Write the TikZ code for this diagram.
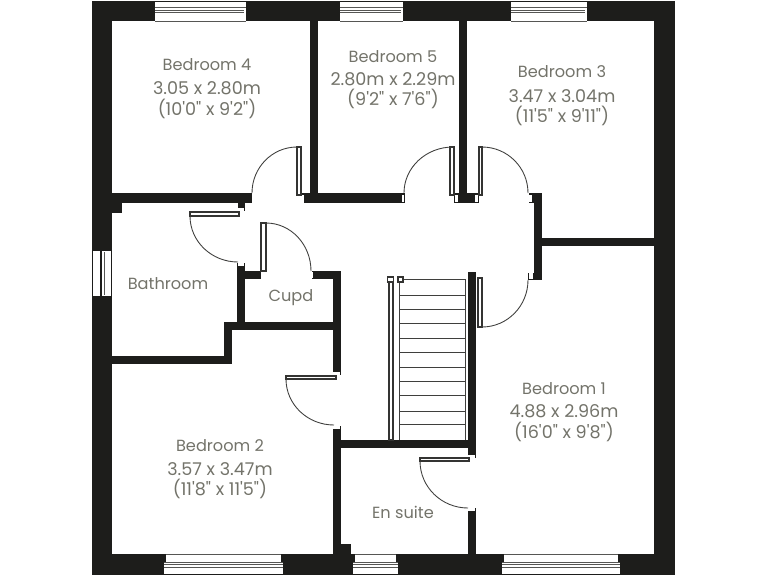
\documentclass[tikz,border=0pt]{standalone}
\usepackage{fontspec}
\usepackage{xcolor}
\usepackage{tikz}
\newfontfamily\planfont{Poppins}
\definecolor{wallblack}{HTML}{1D1D1B}
\definecolor{labelgrey}{HTML}{73736A}
\def\largeur{768}
\def\hauteur{576}
\tikzset{
  wall/.style={fill=wallblack, draw=none},
  pane/.style={fill=white, draw=none},
  paneline/.style={draw=wallblack!75!white, line width=0.4pt},
  leaf/.style={fill=white, draw=wallblack!90!white, line width=0.6pt},
  swing/.style={draw=wallblack!85!white, line width=0.5pt},
  jamb/.style={fill=white, draw=none},
  tread/.style={draw=wallblack!85!white, line width=0.55pt},
  roomname/.style={font=\planfont\fontsize{9.2}{10}\selectfont, text=labelgrey, inner sep=0pt, yshift=-0.4pt},
  roomsize/.style={font=\planfont\fontsize{10}{11}\selectfont, text=labelgrey, inner sep=0pt, yshift=-0.3pt},
}

\begin{document}
\begin{tikzpicture}[x=0.02cm, y=-0.02cm]
\useasboundingbox (0,0) rectangle (\largeur,\hauteur);
%\draw[step=50, line width=0.1mm, black!30!white] (0,0) grid (\largeur,\hauteur);
% outer walls
\fill[wall] (92,1) rectangle (675,21);
\fill[wall] (92,554) rectangle (675,575);
\fill[wall] (92,1) rectangle (112,575);
\fill[wall] (654,1) rectangle (675,575);
% upper rooms
\fill[wall] (112,193) rectangle (252,203);
\fill[wall] (112,203) rectangle (122,213);
\fill[wall] (309.5,21) rectangle (317.5,203);
\fill[wall] (301,193) rectangle (405,203);
\fill[wall] (459,21) rectangle (467,203);
\fill[wall] (454,193) rectangle (479,203);
\fill[wall] (529,193) rectangle (542,203);
\fill[wall] (534,193) rectangle (542,280);
\fill[wall] (528,273) rectangle (534,280);
\fill[wall] (542,238) rectangle (654,246);
% bathroom and cupboard
\fill[wall] (238,203) rectangle (245,211);
\fill[wall] (237,263) rectangle (245,330);
\fill[wall] (237,271) rectangle (261,279);
\fill[wall] (312,271) rectangle (341,279);
\fill[wall] (333,271) rectangle (341,375);
\fill[wall] (224,322) rectangle (341,330);
\fill[wall] (224,322) rectangle (232,364);
\fill[wall] (112,356) rectangle (232,364);
% stairs and en suite
\fill[wall] (467.5,272) rectangle (476,458);
\fill[wall] (333,426) rectangle (341,554);
\fill[wall] (333,440) rectangle (476,448);
\fill[wall] (467.5,508) rectangle (476,554);
\fill[wall] (341,544) rectangle (351,554);
% door stops
\foreach \xa/\ya/\xb/\yb in {333/372/340/375, 333/426/340/429, 310/272/313/278,
    238/263/244/266, 238/208/244/211, 468/455/475/458, 468/508/475/511,
    529/195/532/202, 529/273/533/279, 402/195/404/202, 455/195/458/202,
    475/195/478/202, 301/195/304/203}
  \fill[jamb] (\xa,\ya) rectangle (\xb,\yb);
% door leaves
\draw[leaf] (297,147) rectangle (301,195);
\draw[leaf] (450,147) rectangle (454,195);
\draw[leaf] (479,147) rectangle (482,195);
\draw[leaf] (478,278) rectangle (482,327);
\draw[leaf] (261,223) rectangle (266,271);
\draw[leaf] (190,212) rectangle (239,216);
\draw[leaf] (286,376) rectangle (336,379);
\draw[leaf] (420,458) rectangle (469,461);
% door swings
\draw[swing] (297,147) arc (270:180:45 and 46);
\draw[swing] (453,147) arc (270:180:49 and 46);
\draw[swing] (482,147) arc (270:360:46 and 46);
\draw[swing] (482,327) arc (90:0:46 and 47);
\draw[swing] (266,223) arc (270:360:45 and 48);
\draw[swing] (190,216) arc (180:90:48 and 46);
\draw[swing] (286,379) arc (180:90:48 and 46);
\draw[swing] (420,461) arc (180:90:48 and 47);
% top windows
\foreach \xa/\xb in {155/246, 340/403, 511/587} {
  \fill[pane] (\xa,2) rectangle (\xb,21);
  \draw[paneline] (\xa,7.5) -- (\xb,7.5);
  \draw[paneline] (\xa,10) -- (\xb-2,10);
  \draw[paneline] (\xa,12.5) -- (\xb-2,12.5);
  \draw[paneline] (\xa,21) -- (\xb,21);
}
% bottom windows
\foreach \xa/\xb in {164/283, 353/398, 502/620} {
  \fill[pane] (\xa+2,554) rectangle (\xb-2,562);
  \fill[pane] (\xa,562) rectangle (\xb,574);
  \draw[paneline] (\xa+2,554) -- (\xb-2,554);
  \draw[paneline] (\xa,562) -- (\xb,562);
  \draw[paneline] (\xa,564.5) -- (\xb,564.5);
  \draw[paneline] (\xa,567) -- (\xb,567);
}
% side window
\fill[pane] (93,251) rectangle (111,296);
\fill[wall] (100,251) rectangle (102,296);
\draw[paneline] (104.5,252) -- (104.5,295);
% stairs
\draw[leaf] (389,279) rectangle (393,440);
\draw[tread] (399,279) -- (399,440);
\draw[tread] (399,279) -- (465,279);
\draw[tread] (465,279) -- (465,440);
\foreach \ytread in {295,309,323,338,352,367,381,395,411,424}
  \draw[tread] (400,\ytread) -- (465,\ytread);
\draw[leaf] (387.5,277) rectangle (393.5,282);
\draw[leaf] (398,277) rectangle (403,282);
% labels
\node[roomname] (bedfour) at (207,64) {Bedroom 4};
\node[roomsize] (bedfourm) at (207,88) {3.05 x 2.80m};
\node[roomsize] (bedfourft) at (207,108) {(10'0" x 9'2")};
\node[roomname] (bedfive) at (393,56) {Bedroom 5};
\node[roomsize] (bedfivem) at (393,79) {2.80m x 2.29m};
\node[roomsize] (bedfiveft) at (393,98) {(9'2" x 7'6")};
\node[roomname] (bedthree) at (562,71) {Bedroom 3};
\node[roomsize] (bedthreem) at (562,96) {3.47 x 3.04m};
\node[roomsize] (bedthreeft) at (562,115) {(11'5" x 9'11")};
\node[roomname] (bathroom) at (168,283) {Bathroom};
\node[roomname] (cupd) at (291,297) {Cupd};
\node[roomname] (bedtwo) at (220,445) {Bedroom 2};
\node[roomsize] (bedtwom) at (220,469) {3.57 x 3.47m};
\node[roomsize] (bedtwoft) at (220,488) {(11'8" x 11'5")};
\node[roomname] (ensuite) at (403,512) {En suite};
\node[roomname] (bedone) at (564,388) {Bedroom 1};
\node[roomsize] (bedonem) at (564,411) {4.88 x 2.96m};
\node[roomsize] (bedoneft) at (564,431) {(16'0" x 9'8")};
\end{tikzpicture}
\end{document}
